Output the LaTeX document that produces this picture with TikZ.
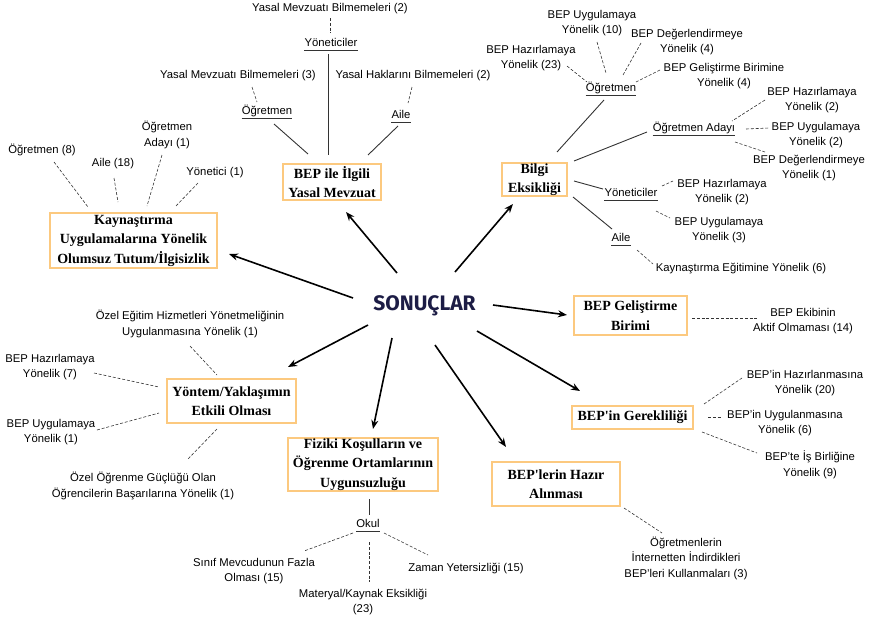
\documentclass[tikz,border=0pt]{standalone}
\usepackage{fontspec}
\setmainfont{Liberation Sans}
\newfontfamily\serifb{Liberation Serif}
\newfontfamily\titlef{Fira Sans}
\usetikzlibrary{arrows.meta}
\definecolor{boxor}{HTML}{FCC97F}
\definecolor{navy}{HTML}{1C1C45}
\definecolor{lnk}{HTML}{333333}
\tikzset{
  box/.style={draw=boxor, line width=1.5pt, font=\serifb\bfseries\fontsize{14}{19.5}\selectfont, align=center, inner sep=0pt},
  lbl/.style={font=\fontsize{11.3}{15.5}\selectfont, align=center, inner sep=0pt},
  ul/.style={font=\fontsize{11.3}{15.5}\selectfont, inner xsep=0pt, inner ysep=1.5pt, text height=9pt, text depth=3pt},
  uline/.style={draw=lnk, line width=0.8pt},
  dsh/.style={draw=lnk, line width=0.6pt, dash pattern=on 3pt off 1.8pt},
  sol/.style={draw=lnk, line width=0.9pt},
  arr/.style={draw=black, line width=1.6pt, -{Stealth[length=9pt,width=7pt]}},
}
\begin{document}
\begin{tikzpicture}[x=1pt,y=-1pt]
\useasboundingbox (0,0) rectangle (869,619);
% centre
\node[anchor=base, font=\titlef\bfseries\fontsize{21}{25}\selectfont, text=navy, inner sep=0pt] (c) at (424.5,310) {SONUÇLAR};
% boxes
\node[box, minimum width=167pt, minimum height=55pt] (kay) at (133.5,240.5) {Kaynaştırma\\Uygulamalarına Yönelik\\Olumsuz Tutum/İlgisizlik};
\node[box, minimum width=98pt, minimum height=36pt] (yas) at (332,182) {BEP ile İlgili\\Yasal Mevzuat};
\node[box, minimum width=65pt, minimum height=33pt] (bil) at (534.5,179.5) {Bilgi\\Eksikliği};
\node[box, minimum width=129pt, minimum height=44pt] (yon) at (231.5,401) {Yöntem/Yaklaşımın\\Etkili Olması};
\node[box, minimum width=150pt, minimum height=53pt] (fiz) at (363,464.5) {Fiziki Koşulların ve\\Öğrenme Ortamlarının\\Uygunsuzluğu};
\node[box, minimum width=128pt, minimum height=44pt] (haz) at (556,484) {BEP'lerin Hazır\\Alınması};
\node[box, minimum width=113pt, minimum height=39pt] (gel) at (630.5,315.5) {BEP Geliştirme\\Birimi};
\node[box, minimum width=121pt, minimum height=23pt] (ger) at (632.5,417.5) {BEP'in Gerekliliği};
% arrows
\coordinate (s1) at (353,298); \coordinate (e1) at (229,254);
\coordinate (s2) at (397,273); \coordinate (e2) at (346,212);
\coordinate (s3) at (455,272); \coordinate (e3) at (513,204);
\coordinate (s4) at (493,305); \coordinate (e4) at (567,315);
\coordinate (s5) at (477,331); \coordinate (e5) at (580,391);
\coordinate (s6) at (435,345); \coordinate (e6) at (506,447);
\coordinate (s7) at (392,338); \coordinate (e7) at (373,429);
\coordinate (s8) at (368,325); \coordinate (e8) at (288,367);
\foreach \i in {1,...,8} {\draw[arr] (s\i) -- (e\i);}
% Kaynastirma group
\node[lbl] (k1) at (42,150) {Öğretmen (8)};
\node[lbl] (k2) at (113,164) {Aile (18)};
\node[lbl] (k3) at (167,135) {Öğretmen\\Adayı (1)};
\node[lbl] (k4) at (215,173) {Yönetici (1)};
\draw[dsh] (54,162) coordinate (k1a) -- (88,207) coordinate (k1b);
\draw[dsh] (114,178) coordinate (k2a) -- (118,202) coordinate (k2b);
\draw[dsh] (162,155) coordinate (k3a) -- (147,206) coordinate (k3b);
\draw[dsh] (198,183) coordinate (k4a) -- (175,207) coordinate (k4b);
% Yasal group
\node[lbl] (y1) at (330,9) {Yasal Mevzuatı Bilmemeleri (2)};
\node[ul] (y2) at (331,43) {Yöneticiler};
\node[lbl] (y3) at (238,76) {Yasal Mevzuatı Bilmemeleri (3)};
\node[ul] (y4) at (267,111) {Öğretmen};
\node[lbl] (y5) at (413,76) {Yasal Haklarını Bilmemeleri (2)};
\node[ul] (y6) at (401,115) {Aile};
\foreach \n in {y2,y4,y6} {\draw[uline] (\n.south west) -- (\n.south east);}
\draw[dsh] (330,18) -- (330,33);
\draw[sol] (328,54) -- (328,155);
\draw[dsh] (252,87) -- (257,102);
\draw[sol] (274,124) -- (308,154);
\draw[dsh] (412,87) -- (408,103);
\draw[sol] (398,126) -- (368,155);
% Bilgi group
\node[lbl] (b1) at (531,58) {BEP Hazırlamaya\\Yönelik (23)};
\node[lbl] (b2) at (592,23) {BEP Uygulamaya\\Yönelik (10)};
\node[lbl] (b3) at (687,42) {BEP Değerlendirmeye\\Yönelik (4)};
\node[lbl] (b4) at (724,76) {BEP Geliştirme Birimine\\Yönelik (4)};
\node[ul] (b5) at (611,88) {Öğretmen};
\node[ul] (b6) at (694,128) {Öğretmen Adayı};
\node[lbl] (b7) at (812,100) {BEP Hazırlamaya\\Yönelik (2)};
\node[lbl] (b8) at (816,135) {BEP Uygulamaya\\Yönelik (2)};
\node[lbl] (b9) at (809,168) {BEP Değerlendirmeye\\Yönelik (1)};
\node[ul] (b10) at (631,193) {Yöneticiler};
\node[lbl] (b11) at (722,192) {BEP Hazırlamaya\\Yönelik (2)};
\node[lbl] (b12) at (719,230) {BEP Uygulamaya\\Yönelik (3)};
\node[ul] (b13) at (621,238) {Aile};
\node[lbl] (b14) at (741,269) {Kaynaştırma Eğitimine Yönelik (6)};
\foreach \n in {b5,b6,b10,b13} {\draw[uline] (\n.south west) -- (\n.south east);}
\draw[dsh] (567,66) -- (587,82);
\draw[dsh] (597,42) -- (606,73);
\draw[dsh] (641,43) -- (623,75);
\draw[dsh] (660,70) -- (636,82);
\draw[sol] (604,100) -- (557,152);
\draw[sol] (647,132) -- (574,161);
\draw[dsh] (765,100) -- (732,121);
\draw[dsh] (746,129) -- (769,128);
\draw[dsh] (735,142) -- (765,152);
\draw[sol] (574,181) -- (603,189);
\draw[dsh] (662,186) -- (673,181);
\draw[dsh] (656,211) -- (670,218);
\draw[sol] (573,197) -- (612,229);
\draw[dsh] (637,250) -- (653,264);
% Yontem group
\node[lbl] (t1) at (190,324) {Özel Eğitim Hizmetleri Yönetmeliğinin\\Uygulanmasına Yönelik (1)};
\node[lbl] (t2) at (50,367) {BEP Hazırlamaya\\Yönelik (7)};
\node[lbl] (t3) at (51,432) {BEP Uygulamaya\\Yönelik (1)};
\node[lbl] (t4) at (143,486) {Özel Öğrenme Güçlüğü Olan\\Öğrencilerin Başarılarına Yönelik (1)};
\draw[dsh] (190,346) -- (217,375);
\draw[dsh] (94,373) -- (159,387);
\draw[dsh] (97,430) -- (159,413);
\draw[dsh] (217,429) -- (187,460);
% Fiziki group
\node[ul] (f1) at (368,524) {Okul};
\draw[uline] (f1.south west) -- (f1.south east);
\node[lbl] (f2) at (254,571) {Sınıf Mevcudunun Fazla\\Olması (15)};
\node[lbl] (f3) at (363,602) {Materyal/Kaynak Eksikliği\\(23)};
\node[lbl] (f4) at (466,568) {Zaman Yetersizliği (15)};
\draw[sol] (369,499) -- (369,515);
\draw[dsh] (353,533) -- (304,551);
\draw[dsh] (369,542) -- (369,582);
\draw[dsh] (384,533) -- (428,555);
% Hazir
\node[lbl] (h1) at (686,558) {Öğretmenlerin\\İnternetten İndirdikleri\\BEP’leri Kullanmaları (3)};
\draw[dsh] (624,508) -- (662,533);
% Gelistirme
\node[lbl] (g1) at (803,321) {BEP Ekibinin\\Aktif Olmaması (14)};
\draw[dsh] (692,318) -- (758,318);
% Gereklilik
\node[lbl] (r1) at (805,383) {BEP’in Hazırlanmasına\\Yönelik (20)};
\node[lbl] (r2) at (785,423) {BEP’in Uygulanmasına\\Yönelik (6)};
\node[lbl] (r3) at (810,465) {BEP’te İş Birliğine\\Yönelik (9)};
\draw[dsh] (704,404) -- (742,378);
\draw[dsh] (708,417) -- (722,417);
\draw[dsh] (702,432) -- (757,453);
\end{tikzpicture}
\end{document}
